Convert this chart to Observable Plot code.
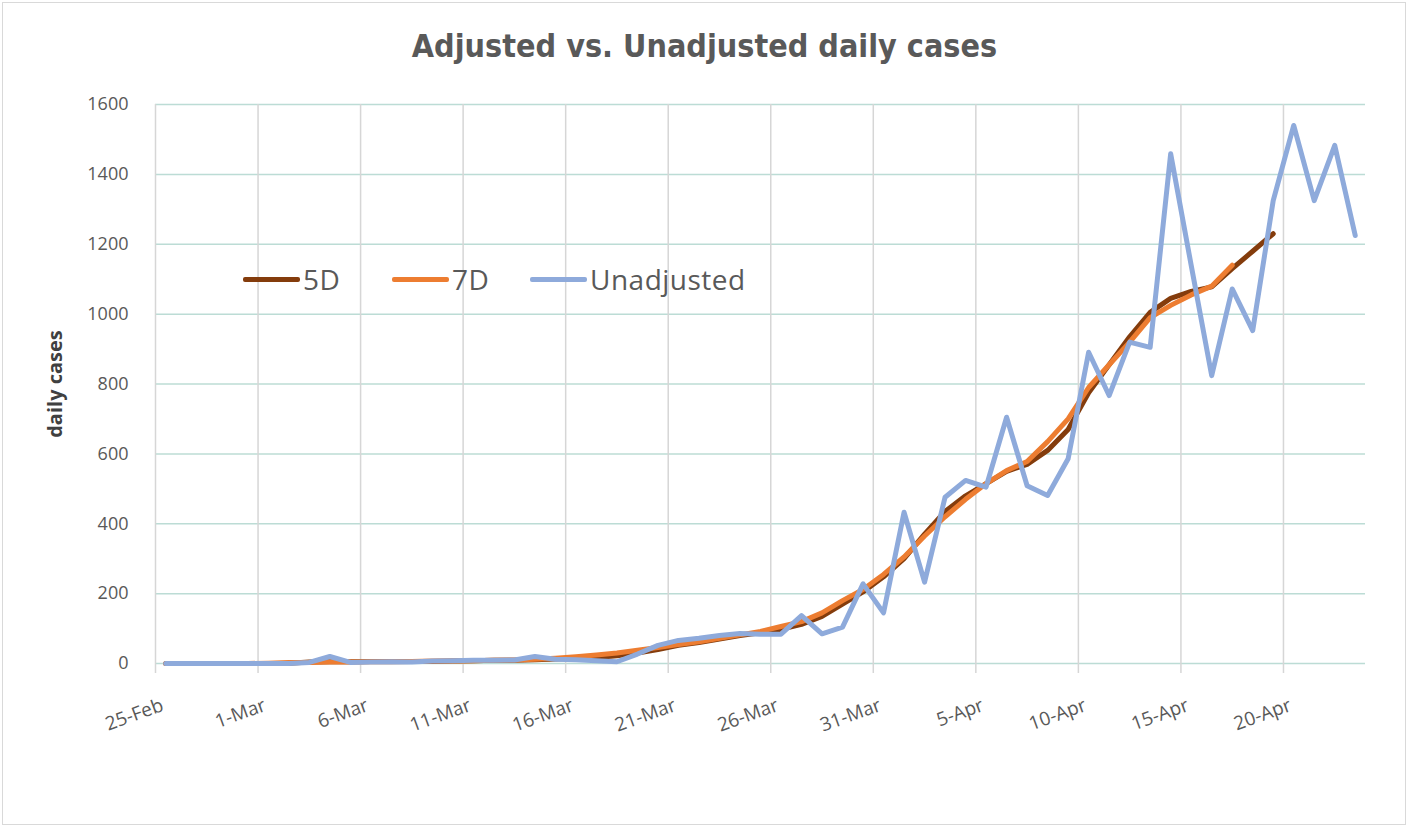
<!DOCTYPE html>
<html>
<head>
<meta charset="utf-8">
<script src="https://cdn.jsdelivr.net/npm/d3@7"></script>
<script src="https://cdn.jsdelivr.net/npm/@observablehq/plot@0.6"></script>
<style>
  html, body { margin: 0; padding: 0; background: #fff; }
  #wrap { position: relative; width: 1409px; height: 828px; overflow: hidden; background: #fff; }
  #frame { position: absolute; left: 2px; top: 2px; width: 1402px; height: 821px; border: 1px solid #d9d9d9; pointer-events: none; }
  #title { position: absolute; left: 0; width: 1409px; top: 27px; text-align: center;
           font-family: "DejaVu Sans Condensed", "DejaVu Sans", sans-serif; font-weight: bold; font-size: 32px; color: #595959; }
  #chart { position: absolute; left: 0; top: 80px; }
  .leg { position: absolute; top: 261px; height: 36px; display: flex; align-items: center;
         font-family: "Open Sans", sans-serif; font-size: 28px; letter-spacing: 0.5px; color: #595959; }
  .sw { width: 57px; height: 5px; margin-right: 3px; border-radius: 2px; }
</style>
</head>
<body>
<div id="wrap">
  <div id="title">Adjusted vs. Unadjusted daily cases</div>
  <div id="chart"></div>
  <div class="leg" style="left:243px"><div class="sw" style="background:#843c0c"></div>5D</div>
  <div class="leg" style="left:392px"><div class="sw" style="background:#ed7d31"></div>7D</div>
  <div class="leg" style="left:530px"><div class="sw" style="background:#8eaadb"></div>Unadjusted</div>
  <div id="frame"></div>
</div>
<script>
// ---- data ----
const startDate = "2020-02-25";
const endDate = "2020-04-23";
const tickDates = ["2020-02-25","2020-03-01","2020-03-06","2020-03-11","2020-03-16","2020-03-21",
                   "2020-03-26","2020-03-31","2020-04-05","2020-04-10","2020-04-15","2020-04-20"];
const tickLabels = ["25-Feb","1-Mar","6-Mar","11-Mar","16-Mar","21-Mar","26-Mar","31-Mar","5-Apr","10-Apr","15-Apr","20-Apr"];
const yTicks = [0,200,400,600,800,1000,1200,1400,1600];

const unadjusted = [0,0,0,0,0,0,0,3,20,3,4,5,4,7,8,9,9,10,20,12,11,8,5,27,52,66,
  72,80,86,84,84,137,85,104,228,145,433,233,476,524,505,705,509,481,586,891,767,920,905,
  1459,1140,824,1072,953,1325,1540,1325,1483,1225];
const fiveDay = [0,0,0,0,0,0,1,4,5,5,6,6,6,6,7,8,9,9,11,13,15,17,22,30,40,52,
  60,70,80,88,98,112,135,170,205,248,300,370,435,480,515,550,570,610,670,775,855,935,1005,
  1045,1065,1078,1130,1180,1230];
const sevenDay = [0,0,0,0,0,1,3,3,4,4,5,5,6,7,7,8,9,10,12,15,19,24,30,38,46,54,
  62,72,82,92,106,120,145,180,212,255,305,365,420,470,515,552,578,635,700,790,855,920,990,
  1025,1055,1080,1140];

// ---- build ----
const days = d3.utcDay.range(new Date(startDate), d3.utcDay.offset(new Date(endDate), 1));
const toRows = (vals) => vals.map((v, i) => ({date: days[i], value: v}));
const half = (d) => d3.utcHour.offset(new Date(d), -12);
const gridX = tickDates.map(half);
const xDomain = [half(startDate), d3.utcHour.offset(new Date(endDate), 12)];
const labelRows = tickDates.map((d, i) => ({x: half(d), label: tickLabels[i]}));

const chart = Plot.plot({
  width: 1409,
  height: 748,
  marginTop: 24,
  marginBottom: 165,
  marginLeft: 155,
  marginRight: 44,
  style: {color: "#595959", background: "transparent", fontFamily: "'Open Sans', sans-serif"},
  x: {type: "utc", domain: xDomain},
  y: {domain: [0, 1600]},
  marks: [
    Plot.ruleY(yTicks, {stroke: "#bcdcd5", strokeWidth: 1.5}),
    Plot.ruleX(gridX, {y1: 0, y2: 1600, stroke: "#d6d6d6", strokeWidth: 1.5}),
    Plot.axisX({ticks: gridX, tickSize: 10, tickFormat: () => "", stroke: "#d6d6d6", strokeWidth: 1.5, label: null}),
    Plot.axisY({ticks: yTicks, tickSize: 0, tickPadding: 27, fontSize: 18, tickFormat: d3.format("d"), label: null}),
    Plot.text(labelRows, {x: "x", y: () => 0, text: "label", rotate: -20, textAnchor: "end",
      dx: 7, dy: 41, fontSize: 19, fill: "#595959"}),
    Plot.text(["daily cases"], {frameAnchor: "left", textAnchor: "middle", dx: -100, rotate: -90, fontWeight: "bold", fontSize: 20, fill: "#404040"}),
    Plot.line(toRows(fiveDay), {x: "date", y: "value", stroke: "#843c0c", strokeWidth: 5, strokeLinejoin: "round", strokeLinecap: "round"}),
    Plot.line(toRows(sevenDay), {x: "date", y: "value", stroke: "#ed7d31", strokeWidth: 5, strokeLinejoin: "round", strokeLinecap: "round"}),
    Plot.line(toRows(unadjusted), {x: "date", y: "value", stroke: "#8eaadb", strokeWidth: 5, strokeLinejoin: "round", strokeLinecap: "round"})
  ]
});
document.getElementById("chart").appendChild(chart);
</script>
</body>
</html>
